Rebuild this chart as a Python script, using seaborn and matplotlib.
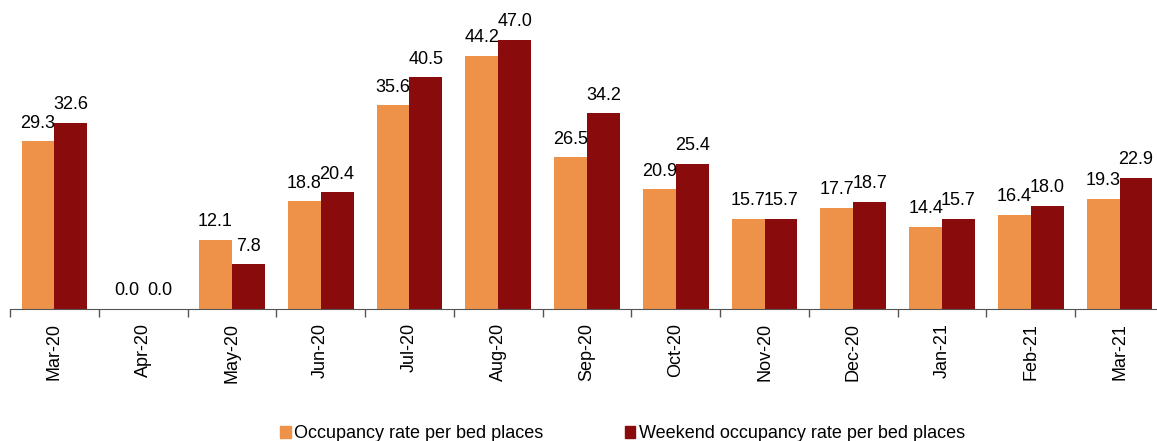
import pandas as pd
import matplotlib.pyplot as plt
import seaborn as sns
from matplotlib.patches import Patch


months = ['Mar-20', 'Apr-20', 'May-20', 'Jun-20', 'Jul-20', 'Aug-20', 'Sep-20',
          'Oct-20', 'Nov-20', 'Dec-20', 'Jan-21', 'Feb-21', 'Mar-21']
occupancy = [29.3, 0.0, 12.1, 18.8, 35.6, 44.2, 26.5, 20.9, 15.7, 17.7, 14.4, 16.4, 19.3]
weekend = [32.6, 0.0, 7.8, 20.4, 40.5, 47.0, 34.2, 25.4, 15.7, 18.7, 15.7, 18.0, 22.9]
series_names = ['Occupancy rate per bed places', 'Weekend occupancy rate per bed places']
colors = ['#EE9249', '#8A0B0B']


def build_frame():
    df = pd.DataFrame({'month': months * 2,
                       'rate': occupancy + weekend,
                       'series': [series_names[0]] * len(months) + [series_names[1]] * len(months)})
    return df


def draw(df):
    sns.set_style('white')
    plt.rcParams['font.family'] = ['Liberation Sans', 'DejaVu Sans']
    plt.rcParams['text.color'] = 'black'
    plt.rcParams['xtick.color'] = 'black'

    fig = plt.figure(figsize=(11.57, 4.41), dpi=100)
    # axes run a bit past the right edge, like the source picture
    ax = fig.add_axes([10 / 1157, 132 / 441, 1154 / 1157, 286 / 441])

    sns.barplot(data=df, x='month', y='rate', hue='series', palette=colors,
                width=0.74, gap=0, linewidth=0, saturation=1, errorbar=None, ax=ax)
    ax.get_legend().remove()

    for cont in ax.containers:
        ax.bar_label(cont, fmt='%.1f', padding=7, fontsize=13, color='black')

    ax.set_ylim(0, 50)
    ax.set_xlim(-0.5, len(months) - 0.5)
    ax.set_xlabel('')
    ax.set_ylabel('')
    ax.set_yticks([])
    ax.set_xticks(range(len(months)))
    ax.set_xticklabels(months, rotation=90, fontsize=13, color='black')
    ax.set_xticks([i - 0.5 for i in range(len(months) + 1)], minor=True)
    ax.tick_params(axis='x', which='major', length=0, pad=10)
    ax.tick_params(axis='x', which='minor', length=6, width=1, color='#555555', bottom=True)

    for s in ['top', 'right', 'left']:
        ax.spines[s].set_visible(False)
    ax.spines['bottom'].set_color('#555555')

    handles = [Patch(color=c) for c in colors]
    fig.legend(handles, series_names, loc='lower center', bbox_to_anchor=(0.538, -0.04),
               ncol=2, frameon=False, fontsize=13, handlelength=0.6, handleheight=0.6,
               handletextpad=0.2, columnspacing=4.5)

    fig.savefig('out.png', dpi=100)


def main():
    df = build_frame()
    draw(df)


if __name__ == '__main__':
    main()
